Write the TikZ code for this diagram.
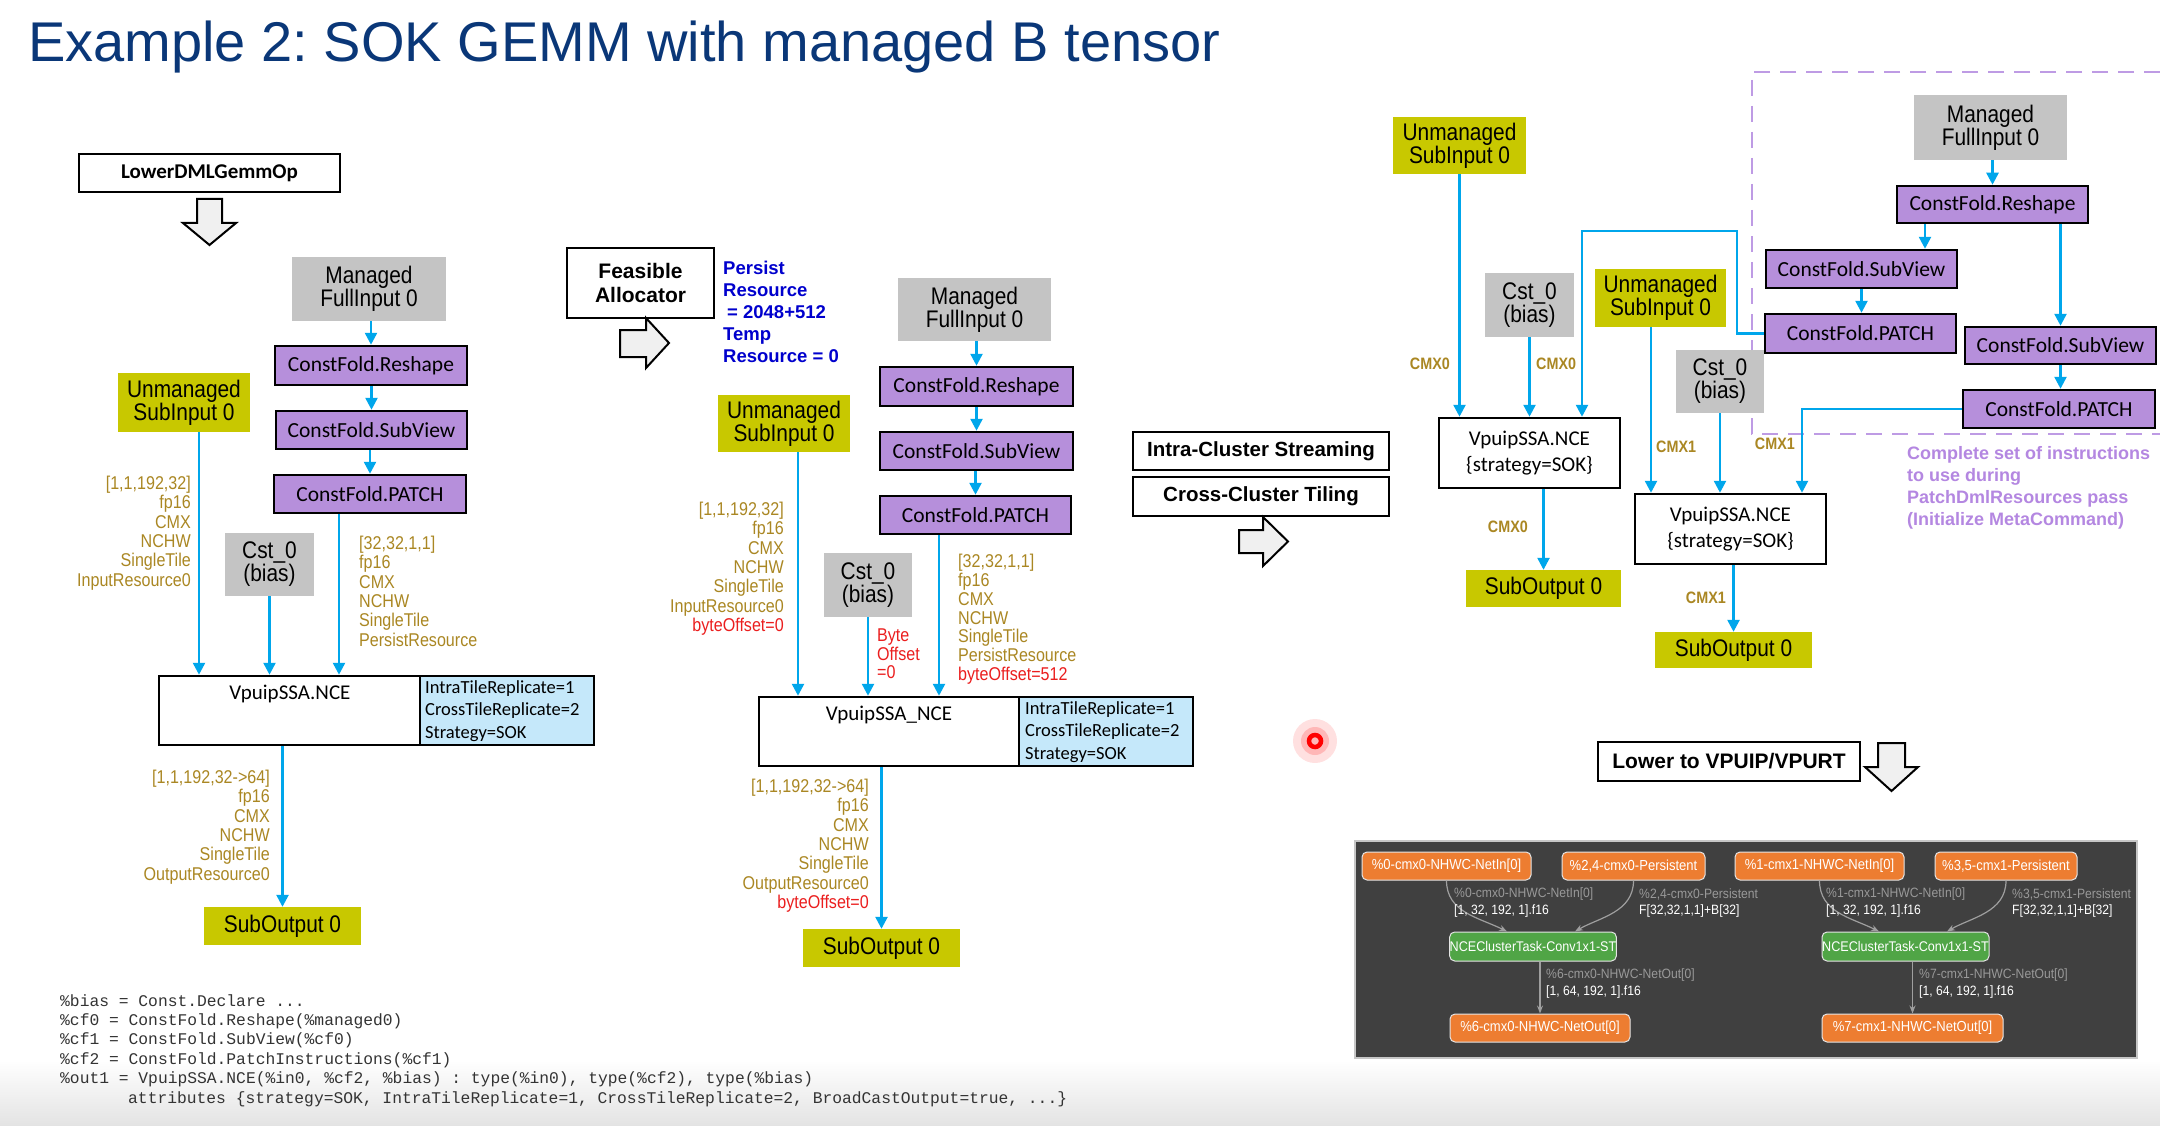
\documentclass[tikz,border=0pt]{standalone}
\usepackage{fontspec}
\setmainfont{Liberation Sans}
\newfontfamily\narrowf[FakeStretch=0.87]{Liberation Sans}
\newfontfamily\calib{Carlito}
\newfontfamily\monof{Liberation Mono}
\newfontfamily\panelf[FakeStretch=0.9]{Liberation Sans}
\usetikzlibrary{arrows.meta}
\newcommand\fsz[2]{\fontsize{#1pt}{#2pt}\selectfont}
\frenchspacing
\definecolor{cgray}{RGB}{196,196,196}
\definecolor{cyel}{RGB}{200,200,0}
\definecolor{cpur}{RGB}{182,143,219}
\definecolor{cblue}{RGB}{0,166,235}
\definecolor{cltblue}{RGB}{197,232,250}
\definecolor{cgold}{RGB}{170,135,35}
\definecolor{cred}{RGB}{235,30,30}
\definecolor{cbluetxt}{RGB}{0,0,205}
\definecolor{ctitle}{RGB}{10,55,120}
\definecolor{cdash}{RGB}{190,155,228}
\definecolor{cptxt}{RGB}{180,135,225}
\definecolor{cpanel}{RGB}{64,64,64}
\definecolor{corange}{RGB}{237,125,49}
\definecolor{cgreen}{RGB}{80,165,70}
\definecolor{cblk}{RGB}{240,240,240}
\tikzset{
  box/.style={inner sep=0pt, align=center},
  gbox/.style={box, fill=cgray, font=\narrowf\fsz{24}{23}},
  ybox/.style={box, fill=cyel, font=\narrowf\fsz{24}{23}},
  pbox/.style={box, fill=cpur, draw=black, line width=2.5pt, font=\calib\fsz{21.5}{24}},
  wbox/.style={box, fill=white, draw=black, line width=2pt},
  ncebox/.style={box, fill=white, draw=black, line width=2.5pt},
  attrbox/.style={box, fill=cltblue, draw=black, line width=2.5pt},
  arr/.style={draw=cblue, line width=2.5pt, -{Triangle[length=12pt,width=12pt]}},
  lab/.style={inner sep=0pt, text=cgold, font=\narrowf\fsz{18.5}{19.3}},
  cmx/.style={inner sep=0pt, text=cgold, font=\narrowf\bfseries\fsz{16.5}{16}},
  ctext/.style={inner sep=0pt, font=\calib\fsz{21}{24}},
  blk/.style={fill=cblk, draw=black, line width=2pt, line join=miter},
  orn/.style={box, fill=corange, draw=white!80!gray, line width=1pt, rounded corners=5pt, text=white, font=\panelf\fsz{14.5}{16}},
  grn/.style={orn, fill=cgreen, font=\panelf\fsz{14}{16}},
  pedge/.style={draw=gray!75, line width=1.2pt, -{Stealth[length=8pt,width=6pt]}},
  pl1/.style={inner sep=0pt, anchor=west, text=gray!80, font=\panelf\fsz{13.5}{14}},
  pl2/.style={pl1, text=white}
}
\begin{document}
\begin{tikzpicture}[x=1pt,y=-1pt]
\useasboundingbox (0,0) rectangle (2160,1126);
\fill[white] (0,0) rectangle (2160,1126);
\shade[top color=white, bottom color=black!11] (0,1060) rectangle (2160,1126);

% title
\node[anchor=base west, inner sep=0pt, text=ctitle, font=\fsz{56}{60}] (title) at (28,62) {Example 2: SOK GEMM with managed B tensor};

% ---------------- left panel
\node[wbox, minimum width=261pt, minimum height=38pt, font=\calib\bfseries\fsz{21}{24}] (lower) at (209.5,173) {LowerDMLGemmOp};
\draw[blk] (197,199) -- (222,199) -- (222,223) -- (236,223) -- (209.5,245) -- (183,223) -- (197,223) -- cycle;

\node[gbox, minimum width=154pt, minimum height=64pt] (mf1) at (369,289) {Managed\\FullInput 0};
\node[pbox, minimum width=192pt, minimum height=39pt] (rs1) at (371,365.5) {ConstFold.Reshape};
\node[pbox, minimum width=191pt, minimum height=38pt] (sv1) at (371.5,430) {ConstFold.SubView};
\node[pbox, minimum width=192pt, minimum height=38pt] (pt1) at (370,494) {ConstFold.PATCH};
\node[ybox, minimum width=132pt, minimum height=59pt] (un1) at (184,402.5) {Unmanaged\\SubInput 0};
\node[gbox, minimum width=89pt, minimum height=63pt] (cs1) at (269.5,564.5) {Cst\_0\\(bias)};
\node[ncebox, minimum width=261pt, minimum height=69pt] (nce1) at (289.5,710.5) {};
\node[attrbox, minimum width=174pt, minimum height=69pt] (att1) at (507,710.5) {};
\node[ctext] (nce1t) at (290,694) {VpuipSSA.NCE};
\node[ctext, anchor=north west, align=left, font=\calib\fsz{18.5}{22.5}] (att1t) at (425,680) {IntraTileReplicate=1\\CrossTileReplicate=2\\Strategy=SOK};
\node[ybox, minimum width=157pt, minimum height=38pt] (so1) at (282.5,926) {SubOutput 0};

\coordinate (u1b) at ([xshift=15pt]un1.south);
\coordinate (p1b) at ([xshift=-31pt]pt1.south);
\draw[arr] (rs1.north |- mf1.south) -- (rs1.north);
\draw[arr] (sv1.north |- rs1.south) -- (sv1.north);
\draw[arr] (pt1.north |- sv1.south) -- (pt1.north);
\draw[arr] (u1b) -- (u1b |- nce1.north);
\draw[arr] (cs1.south) -- (cs1.south |- nce1.north);
\draw[arr] (p1b) -- (p1b |- nce1.north);
\draw[arr] (so1.north |- nce1.south) -- (so1.north);

\node[lab, anchor=north east, align=right] (l1) at (191,476) {[1,1,192,32]\\fp16\\CMX\\NCHW\\SingleTile\\InputResource0};
\node[lab, anchor=north west, align=left] (l2) at (359,536) {[32,32,1,1]\\fp16\\CMX\\NCHW\\SingleTile\\PersistResource};
\node[lab, anchor=north east, align=right] (l3) at (270,770) {[1,1,192,32->64]\\fp16\\CMX\\NCHW\\SingleTile\\OutputResource0};

% ---------------- middle panel
\node[wbox, minimum width=147pt, minimum height=70pt, font=\bfseries\fsz{21}{23.7}] (feas) at (640.5,283) {Feasible\\Allocator};
\draw[blk] (620,330) -- (646,330) -- (646,318) -- (669,343) -- (646,368) -- (646,357) -- (620,357) -- cycle;
\node[inner sep=0pt, anchor=north west, align=left, text=cbluetxt, font=\bfseries\fsz{18.5}{22}] (persist) at (723,261) {Persist\\Resource\\\hspace*{4pt}= 2048+512\\Temp\\Resource = 0};

\node[gbox, minimum width=153pt, minimum height=63pt] (mf2) at (974.5,309.5) {Managed\\FullInput 0};
\node[pbox, minimum width=193pt, minimum height=39pt] (rs2) at (976.5,386.5) {ConstFold.Reshape};
\node[pbox, minimum width=193pt, minimum height=38pt] (sv2) at (976.5,451) {ConstFold.SubView};
\node[pbox, minimum width=191pt, minimum height=38pt] (pt2) at (975.5,515) {ConstFold.PATCH};
\node[ybox, minimum width=132pt, minimum height=57pt] (un2) at (784,423.5) {Unmanaged\\SubInput 0};
\node[gbox, minimum width=88pt, minimum height=64pt] (cs2) at (868,585) {Cst\_0\\(bias)};
\node[ncebox, minimum width=260pt, minimum height=69pt] (nce2) at (889,731.5) {};
\node[attrbox, minimum width=174pt, minimum height=69pt] (att2) at (1106,731.5) {};
\node[ctext] (nce2t) at (889,715) {VpuipSSA\_NCE};
\node[ctext, anchor=north west, align=left, font=\calib\fsz{18.5}{22.5}] (att2t) at (1025,701) {IntraTileReplicate=1\\CrossTileReplicate=2\\Strategy=SOK};
\node[ybox, minimum width=157pt, minimum height=38pt] (so2) at (881.5,948) {SubOutput 0};

\coordinate (u2b) at ([xshift=14pt]un2.south);
\coordinate (p2b) at ([xshift=-36.5pt]pt2.south);
\draw[arr] (rs2.north |- mf2.south) -- (rs2.north);
\draw[arr] (sv2.north |- rs2.south) -- (sv2.north);
\draw[arr] (pt2.north |- sv2.south) -- (pt2.north);
\draw[arr] (u2b) -- (u2b |- nce2.north);
\draw[arr] (cs2.south) -- (cs2.south |- nce2.north);
\draw[arr] (p2b) -- (p2b |- nce2.north);
\draw[arr] (so2.north |- nce2.south) -- (so2.north);

\node[lab, anchor=north east, align=right] (l4) at (784,502) {[1,1,192,32]\\fp16\\CMX\\NCHW\\SingleTile\\InputResource0\\\textcolor{cred}{byteOffset=0}};
\node[lab, anchor=north west, align=left, text=cred, font=\narrowf\fsz{18.5}{18.5}] (l5) at (877,629) {Byte\\Offset\\=0};
\node[lab, anchor=north west, align=left, font=\narrowf\fsz{18.5}{18.8}] (l6) at (958,554) {[32,32,1,1]\\fp16\\CMX\\NCHW\\SingleTile\\PersistResource\\\textcolor{cred}{byteOffset=512}};
\node[lab, anchor=north east, align=right] (l7) at (869,779) {[1,1,192,32->64]\\fp16\\CMX\\NCHW\\SingleTile\\OutputResource0\\\textcolor{cred}{byteOffset=0}};

% ---------------- transition
\node[wbox, minimum width=256pt, minimum height=38pt, font=\bfseries\fsz{20.5}{22}] (intra) at (1261,451) {Intra-Cluster Streaming};
\node[wbox, minimum width=256pt, minimum height=39pt, font=\bfseries\fsz{20.5}{22}] (cross) at (1261,496.5) {Cross-Cluster Tiling};
\draw[blk] (1239,530) -- (1263,530) -- (1263,517) -- (1288,541.5) -- (1263,566) -- (1263,553) -- (1239,553) -- cycle;

% ---------------- right panel
\draw[cdash, line width=2.5pt, dash pattern=on 16pt off 10pt] (2160,72) -- (1752,72) -- (1752,434) -- (2160,434);

\node[ybox, minimum width=133pt, minimum height=57pt] (un3) at (1459.5,145.5) {Unmanaged\\SubInput 0};
\node[gbox, minimum width=89pt, minimum height=64pt] (cs3) at (1529.5,305) {Cst\_0\\(bias)};
\node[ncebox, minimum width=181pt, minimum height=70pt, font=\calib\fsz{21}{26}] (nce3) at (1529.5,453) {VpuipSSA.NCE\\\{strategy=SOK\}};
\node[ybox, minimum width=155pt, minimum height=37pt] (so3) at (1543.5,588.5) {SubOutput 0};
\node[ybox, minimum width=131pt, minimum height=58pt] (un4) at (1660.5,298) {Unmanaged\\SubInput 0};
\node[gbox, minimum width=88pt, minimum height=63pt] (cs4) at (1720,381.5) {Cst\_0\\(bias)};
\node[ncebox, minimum width=191pt, minimum height=70pt, font=\calib\fsz{21}{26}] (nce4) at (1730.5,529) {VpuipSSA.NCE\\\{strategy=SOK\}};
\node[ybox, minimum width=157pt, minimum height=36pt] (so4) at (1733.5,650) {SubOutput 0};

\node[gbox, minimum width=153pt, minimum height=65pt] (mf3) at (1990.5,127.5) {Managed\\FullInput 0};
\node[pbox, minimum width=191pt, minimum height=37pt] (rs3) at (1992.5,204.5) {ConstFold.Reshape};
\node[pbox, minimum width=191pt, minimum height=38pt] (sv3a) at (1861.5,269) {ConstFold.SubView};
\node[pbox, minimum width=191pt, minimum height=39pt] (pt3a) at (1860.5,333.5) {ConstFold.PATCH};
\node[pbox, minimum width=191pt, minimum height=37pt] (sv3b) at (2060.5,345.5) {ConstFold.SubView};
\node[pbox, minimum width=192pt, minimum height=38pt] (pt3b) at (2059,409) {ConstFold.PATCH};

\coordinate (k1) at (1737,231);
\coordinate (k2) at (1582,231);
\coordinate (k3) at (1802,0);
\coordinate (r3a) at (1925,0);
\coordinate (u4b) at ([xshift=-9.5pt]un4.south);
\draw[arr] (un3.south) -- (un3.south |- nce3.north);
\draw[arr] (cs3.south) -- (cs3.south |- nce3.north);
\draw[arr] (pt3a.west) -| (k1) -- (k2) -- (k2 |- nce3.north);
\draw[arr] (so3.north |- nce3.south) -- (so3.north);
\draw[arr] (u4b) -- (u4b |- nce4.north);
\draw[arr] (cs4.south) -- (cs4.south |- nce4.north);
\draw[arr] (pt3b.west) -| (k3 |- nce4.north);
\draw[arr] (so4.north |- nce4.south) -- (so4.north);
\draw[arr] (rs3.north |- mf3.south) -- (rs3.north);
\draw[arr] (r3a |- rs3.south) -- (r3a |- sv3a.north);
\draw[arr] (sv3a.south) -- (sv3a.south |- pt3a.north);
\draw[arr] (sv3b.north |- rs3.south) -- (sv3b.north);
\draw[arr] (sv3b.south) -- (sv3b.south |- pt3b.north);

\node[cmx, anchor=east] (c1) at (1450,364) {CMX0};
\node[cmx, anchor=west] (c2) at (1536,364) {CMX0};
\node[cmx, anchor=east] (c3) at (1528,527) {CMX0};
\node[cmx, anchor=west] (c4) at (1656,447) {CMX1};
\node[cmx, anchor=east] (c5) at (1795,444) {CMX1};
\node[cmx, anchor=east] (c6) at (1726,598) {CMX1};

\node[inner sep=0pt, anchor=north west, align=left, text=cptxt, font=\bfseries\fsz{18}{22}] (ptxt) at (1907,446) {Complete set of instructions\\to use during\\PatchDmlResources pass\\(Initialize MetaCommand)};

\node[wbox, minimum width=262pt, minimum height=39pt, font=\bfseries\fsz{21}{22}] (lowvp) at (1729,761.5) {Lower to VPUIP/VPURT};
\draw[blk] (1878,743) -- (1905,743) -- (1905,767) -- (1918,767) -- (1891.5,791) -- (1865,767) -- (1878,767) -- cycle;

% laser dot
\fill[red, opacity=0.12] (1315,741) circle (22pt);
\fill[red, opacity=0.18] (1315,741) circle (14pt);
\draw[red, line width=4.5pt] (1315,741) circle (6pt);

% ---------------- dark panel
\draw[fill=cpanel, draw=gray!45, line width=1.5pt] (1355,841) rectangle (2137,1058);
\node[orn, minimum width=169pt, minimum height=28pt] (o1) at (1446.5,866) {\%0-cmx0-NHWC-NetIn[0]};
\node[orn, minimum width=143pt, minimum height=28pt] (o2) at (1633.5,866) {\%2,4-cmx0-Persistent};
\node[orn, minimum width=169pt, minimum height=28pt] (o3) at (1819.5,866) {\%1-cmx1-NHWC-NetIn[0]};
\node[orn, minimum width=142pt, minimum height=28pt] (o4) at (2006,866) {\%3,5-cmx1-Persistent};
\node[grn, minimum width=166pt, minimum height=29pt] (g1) at (1533,946.5) {NCEClusterTask-Conv1x1-ST};
\node[grn, minimum width=167pt, minimum height=29pt] (g2) at (1905.5,946.5) {NCEClusterTask-Conv1x1-ST};
\node[orn, minimum width=180pt, minimum height=28pt] (n1) at (1540,1028) {\%6-cmx0-NHWC-NetOut[0]};
\node[orn, minimum width=181pt, minimum height=28pt] (n2) at (1912.5,1028) {\%7-cmx1-NHWC-NetOut[0]};

\coordinate (g1a) at ([xshift=-26pt]g1.north);
\coordinate (g1b) at ([xshift=42pt]g1.north);
\coordinate (g2a) at ([xshift=-26.5pt]g2.north);
\coordinate (g2b) at ([xshift=41.5pt]g2.north);
\draw[pedge] (o1.south) .. controls ([yshift=-32pt]o1.south) and ([xshift=-28pt,yshift=14pt]g1a) .. (g1a);
\draw[pedge] (o2.south) .. controls ([yshift=-32pt]o2.south) and ([xshift=24pt,yshift=14pt]g1b) .. (g1b);
\draw[pedge] (o3.south) .. controls ([yshift=-32pt]o3.south) and ([xshift=-28pt,yshift=14pt]g2a) .. (g2a);
\draw[pedge] (o4.south) .. controls ([yshift=-32pt]o4.south) and ([xshift=24pt,yshift=14pt]g2b) .. (g2b);
\draw[pedge] (n1.north |- g1.south) -- (n1.north);
\draw[pedge] (n2.north |- g2.south) -- (n2.north);

\node[pl1] (e1a) at (1454,894) {\%0-cmx0-NHWC-NetIn[0]};
\node[pl2] (e1b) at (1454,911) {[1, 32, 192, 1].f16};
\node[pl1] (e2a) at (1639,894) {\%2,4-cmx0-Persistent};
\node[pl2] (e2b) at (1639,911) {F[32,32,1,1]+B[32]};
\node[pl1] (e3a) at (1826,894) {\%1-cmx1-NHWC-NetIn[0]};
\node[pl2] (e3b) at (1826,911) {[1, 32, 192, 1].f16};
\node[pl1] (e4a) at (2012,894) {\%3,5-cmx1-Persistent};
\node[pl2] (e4b) at (2012,911) {F[32,32,1,1]+B[32]};
\node[pl1] (e5a) at (1546,975) {\%6-cmx0-NHWC-NetOut[0]};
\node[pl2] (e5b) at (1546,992) {[1, 64, 192, 1].f16};
\node[pl1] (e6a) at (1919,975) {\%7-cmx1-NHWC-NetOut[0]};
\node[pl2] (e6b) at (1919,992) {[1, 64, 192, 1].f16};

% ---------------- code
\node[inner sep=0pt, anchor=north west, align=left, text=black!80, font=\monof\fsz{16.3}{19.4}] (code) at (60,994) {\%bias = Const.Declare ...\\\%cf0 = ConstFold.Reshape(\%managed0)\\\%cf1 = ConstFold.SubView(\%cf0)\\\%cf2 = ConstFold.PatchInstructions(\%cf1)\\\%out1 = VpuipSSA.NCE(\%in0, \%cf2, \%bias) : type(\%in0), type(\%cf2), type(\%bias)\\\hspace*{68pt}attributes \{strategy=SOK, IntraTileReplicate=1, CrossTileReplicate=2, BroadCastOutput=true, ...\}};
\end{tikzpicture}
\end{document}
